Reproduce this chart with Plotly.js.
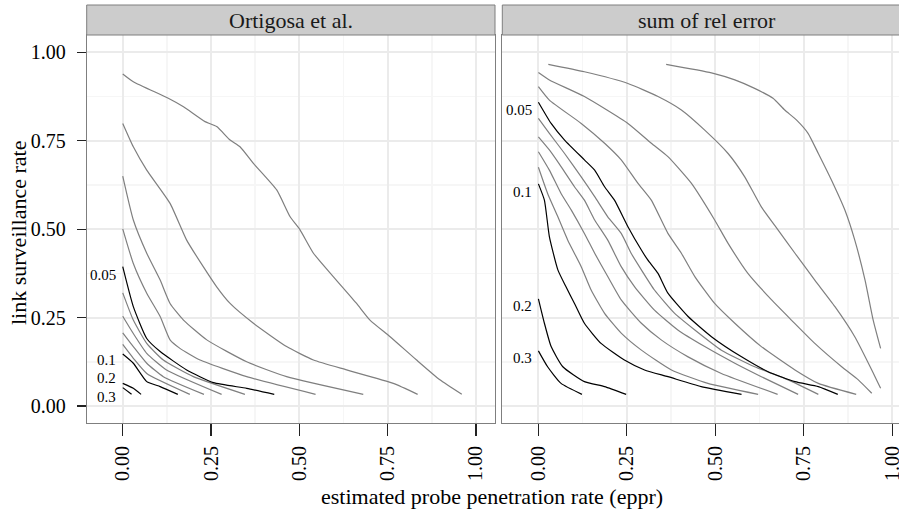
<!DOCTYPE html>
<html>
<head>
<meta charset="utf-8">
<script src="https://cdn.plot.ly/plotly-3.0.1.min.js"></script>
<style>
html, body { margin: 0; padding: 0; overflow: hidden; background: #ffffff; }
#chart { width: 912px; height: 512px; }
</style>
</head>
<body>
<div id="chart"></div>
<script>
// ---------- data: Ortigosa et al. (left panel) ----------
const panelTitles = ["Ortigosa et al.", "sum of rel error"];
const xTickVals = [0, 0.25, 0.5, 0.75, 1.0];
const xTickText = ["0.00", "0.25", "0.50", "0.75", "1.00"];
const yTickVals = [0, 0.25, 0.5, 0.75, 1.0];
const yTickText = ["0.00", "0.25", "0.50", "0.75", "1.00"];
const minorVals = [0.125, 0.375, 0.625, 0.875];
const labelLevels = ["0.05", "0.1", "0.2", "0.3"];

const ortA_x = [0, 0.03, 0.129, 0.172, 0.233, 0.266, 0.304, 0.332, 0.370, 0.436, 0.474, 0.502, 0.540, 0.596, 0.662, 0.700, 0.757, 0.832, 0.898, 0.960];
const ortA_y = [0.939, 0.917, 0.870, 0.846, 0.804, 0.790, 0.752, 0.733, 0.686, 0.611, 0.535, 0.498, 0.432, 0.366, 0.290, 0.243, 0.196, 0.130, 0.074, 0.033];
const ortB_x = [0, 0.030, 0.068, 0.134, 0.181, 0.228, 0.266, 0.304, 0.370, 0.464, 0.540, 0.634, 0.766, 0.835];
const ortB_y = [0.799, 0.733, 0.667, 0.573, 0.469, 0.394, 0.337, 0.290, 0.234, 0.168, 0.130, 0.102, 0.064, 0.033];
const ortC_x = [0, 0.030, 0.068, 0.106, 0.134, 0.172, 0.238, 0.351, 0.464, 0.681];
const ortC_y = [0.650, 0.526, 0.432, 0.356, 0.290, 0.243, 0.187, 0.125, 0.083, 0.033];
const ortD_x = [0, 0.030, 0.068, 0.106, 0.134, 0.162, 0.219, 0.351, 0.546];
const ortD_y = [0.501, 0.403, 0.319, 0.253, 0.187, 0.163, 0.130, 0.083, 0.033];
const ort005_x = [0, 0.030, 0.068, 0.106, 0.181, 0.257, 0.351, 0.429];
const ort005_y = [0.394, 0.281, 0.191, 0.154, 0.102, 0.066, 0.050, 0.033];
const ortE_x = [0, 0.030, 0.068, 0.115, 0.200, 0.346];
const ortE_y = [0.320, 0.243, 0.177, 0.130, 0.083, 0.033];
const ortF_x = [0, 0.030, 0.068, 0.124, 0.280];
const ortF_y = [0.254, 0.205, 0.149, 0.102, 0.033];
const ortG_x = [0, 0.030, 0.068, 0.115, 0.230];
const ortG_y = [0.207, 0.168, 0.121, 0.083, 0.033];
const ortH_x = [0, 0.030, 0.068, 0.190];
const ortH_y = [0.174, 0.135, 0.092, 0.033];
const ort01_x = [0, 0.030, 0.068, 0.106, 0.156];
const ort01_y = [0.147, 0.121, 0.069, 0.055, 0.033];
const ort02_x = [0, 0.030, 0.052];
const ort02_y = [0.064, 0.050, 0.033];
const ort03_x = [0, 0.025];
const ort03_y = [0.052, 0.033];
const ortLabelY = [0.37, 0.13, 0.078, 0.026];

// ---------- data: sum of rel error (right panel) ----------
const relA_x = [0.361, 0.489, 0.555, 0.611, 0.663, 0.696, 0.729, 0.762, 0.791, 0.828, 0.866, 0.894, 0.923, 0.946, 0.967];
const relA_y = [0.966, 0.942, 0.922, 0.898, 0.870, 0.837, 0.809, 0.771, 0.714, 0.639, 0.554, 0.469, 0.356, 0.243, 0.163];
const relB_x = [0.028, 0.130, 0.253, 0.338, 0.404, 0.470, 0.536, 0.583, 0.630, 0.677, 0.725, 0.781, 0.838, 0.894, 0.942, 0.967];
const relB_y = [0.966, 0.945, 0.912, 0.875, 0.837, 0.780, 0.714, 0.648, 0.563, 0.498, 0.432, 0.356, 0.281, 0.196, 0.102, 0.050];
const relC_x = [0, 0.031, 0.130, 0.253, 0.319, 0.366, 0.432, 0.498, 0.536, 0.592, 0.659, 0.715, 0.781, 0.857, 0.904, 0.942];
const relC_y = [0.943, 0.922, 0.875, 0.799, 0.743, 0.705, 0.630, 0.526, 0.460, 0.375, 0.300, 0.243, 0.177, 0.111, 0.074, 0.036];
const relD_x = [0, 0.031, 0.121, 0.187, 0.234, 0.281, 0.319, 0.366, 0.404, 0.442, 0.498, 0.555, 0.630, 0.725, 0.791, 0.898];
const relD_y = [0.903, 0.865, 0.799, 0.743, 0.696, 0.630, 0.582, 0.488, 0.432, 0.366, 0.290, 0.234, 0.168, 0.102, 0.064, 0.033];
const rel005_x = [0, 0.036, 0.074, 0.130, 0.159, 0.187, 0.215, 0.253, 0.291, 0.309, 0.338, 0.366, 0.423, 0.489, 0.574, 0.649, 0.725, 0.791, 0.846];
const rel005_y = [0.859, 0.799, 0.752, 0.696, 0.667, 0.620, 0.582, 0.507, 0.441, 0.413, 0.375, 0.319, 0.253, 0.196, 0.139, 0.097, 0.069, 0.055, 0.033];
const relE_x = [0, 0.031, 0.074, 0.121, 0.159, 0.196, 0.234, 0.262, 0.291, 0.328, 0.385, 0.442, 0.517, 0.611, 0.706, 0.791];
const relE_y = [0.813, 0.771, 0.714, 0.648, 0.592, 0.535, 0.488, 0.432, 0.385, 0.328, 0.262, 0.215, 0.158, 0.111, 0.074, 0.033];
const relF_x = [0, 0.031, 0.064, 0.102, 0.130, 0.159, 0.196, 0.234, 0.272, 0.328, 0.394, 0.470, 0.555, 0.630, 0.734];
const relF_y = [0.761, 0.724, 0.677, 0.620, 0.582, 0.526, 0.469, 0.394, 0.337, 0.271, 0.215, 0.168, 0.121, 0.083, 0.033];
const relG_x = [0, 0.031, 0.064, 0.093, 0.130, 0.159, 0.196, 0.234, 0.291, 0.347, 0.423, 0.517, 0.676];
const relG_y = [0.719, 0.667, 0.601, 0.554, 0.488, 0.432, 0.366, 0.300, 0.234, 0.187, 0.139, 0.092, 0.033];
const relH_x = [0, 0.026, 0.055, 0.083, 0.121, 0.149, 0.187, 0.234, 0.291, 0.376, 0.479, 0.621];
const relH_y = [0.675, 0.601, 0.535, 0.469, 0.394, 0.328, 0.262, 0.206, 0.158, 0.102, 0.064, 0.033];
const rel01_x = [0, 0.017, 0.031, 0.055, 0.078, 0.102, 0.130, 0.177, 0.243, 0.300, 0.366, 0.460, 0.574];
const rel01_y = [0.628, 0.582, 0.479, 0.385, 0.337, 0.290, 0.234, 0.177, 0.130, 0.102, 0.083, 0.055, 0.033];
const rel02_x = [0, 0.017, 0.036, 0.069, 0.130, 0.187, 0.248];
const rel02_y = [0.303, 0.234, 0.168, 0.111, 0.069, 0.055, 0.033];
const rel03_x = [0, 0.026, 0.064, 0.123];
const rel03_y = [0.156, 0.111, 0.064, 0.033];
const relLabelY = [0.837, 0.604, 0.283, 0.135];

// ---------- build ----------
const W = 912, H = 512;
const GRAY = "#7f7f7f", BLACK = "#000000";
const FONT = "'Liberation Serif', 'DejaVu Serif', serif";

function line(xs, ys, color, xa, ya) {
  return { type: "scatter", mode: "lines", x: xs, y: ys, xaxis: xa, yaxis: ya,
           line: { color: color, width: 1.2, shape: "spline", smoothing: 0.5 },
           hoverinfo: "skip", showlegend: false };
}

const leftSeries = [
  [ortA_x, ortA_y, GRAY], [ortB_x, ortB_y, GRAY], [ortC_x, ortC_y, GRAY], [ortD_x, ortD_y, GRAY],
  [ortE_x, ortE_y, GRAY], [ortF_x, ortF_y, GRAY], [ortG_x, ortG_y, GRAY], [ortH_x, ortH_y, GRAY],
  [ort005_x, ort005_y, BLACK], [ort01_x, ort01_y, BLACK], [ort02_x, ort02_y, BLACK], [ort03_x, ort03_y, BLACK]
];
const rightSeries = [
  [relA_x, relA_y, GRAY], [relB_x, relB_y, GRAY], [relC_x, relC_y, GRAY], [relD_x, relD_y, GRAY],
  [relE_x, relE_y, GRAY], [relF_x, relF_y, GRAY], [relG_x, relG_y, GRAY], [relH_x, relH_y, GRAY],
  [rel005_x, rel005_y, BLACK], [rel01_x, rel01_y, BLACK], [rel02_x, rel02_y, BLACK], [rel03_x, rel03_y, BLACK]
];

const traces = [];
leftSeries.forEach(s => traces.push(line(s[0], s[1], s[2], "x", "y")));
rightSeries.forEach(s => traces.push(line(s[0], s[1], s[2], "x2", "y2")));

const px = v => v / W;
const py = v => (H - v) / H;
const dom1 = [px(86.7), px(495)];
const dom2 = [px(502.3), px(911.4)];
const domY = [py(423), py(35)];

const xr = [-0.102, 1.054];
const yr = [-0.048, 1.049];

function xAxis(domain, anchor) {
  return {
    domain: domain, range: xr, anchor: anchor, tickmode: "array",
    tickvals: xTickVals, ticktext: xTickText, tickangle: -90,
    ticks: "outside", ticklen: 12, tickwidth: 1.2, tickcolor: "#222", ticklabelstandoff: 2,
    tickfont: { family: FONT, size: 20, color: "#000" },
    showline: true, mirror: true, linecolor: GRAY, linewidth: 1,
    showgrid: true, gridcolor: "#ebebeb", gridwidth: 2, zeroline: false,
    minor: { tickmode: "array", tickvals: minorVals, showgrid: true, gridcolor: "#f6f6f6", gridwidth: 1.5, ticks: "" }
  };
}
function yAxis(anchor, showLabels) {
  return {
    domain: domY, range: yr, anchor: anchor, tickmode: "array",
    tickvals: yTickVals, ticktext: showLabels ? yTickText : ["", "", "", "", ""],
    showticklabels: showLabels,
    ticks: showLabels ? "outside" : "", ticklen: 9, tickwidth: 1.2, tickcolor: "#222", ticklabelstandoff: 7,
    tickfont: { family: FONT, size: 20, color: "#000" },
    showline: true, mirror: true, linecolor: GRAY, linewidth: 1,
    showgrid: true, gridcolor: "#ebebeb", gridwidth: 2, zeroline: false,
    minor: { tickmode: "array", tickvals: minorVals, showgrid: true, gridcolor: "#f6f6f6", gridwidth: 1.5, ticks: "" }
  };
}

const annotations = [];
const shapes = [];
[dom1, dom2].forEach((d, i) => {
  shapes.push({ type: "rect", xref: "paper", yref: "paper", x0: d[0], x1: d[1], y0: py(35), y1: py(5),
                fillcolor: "#cccccc", line: { color: GRAY, width: 1 }, layer: "above" });
  annotations.push({ xref: "paper", yref: "paper", x: (d[0] + d[1]) / 2, y: py(20), text: panelTitles[i],
                     showarrow: false, xanchor: "center", yanchor: "middle",
                     font: { family: FONT, size: 22, color: "#1a1a1a" } });
});
labelLevels.forEach((t, i) => {
  annotations.push({ xref: "x", yref: "y", x: -0.012, y: ortLabelY[i], text: t, showarrow: false,
                     xanchor: "right", yanchor: "middle", font: { family: FONT, size: 15, color: "#000" } });
  annotations.push({ xref: "x2", yref: "y2", x: -0.013, y: relLabelY[i], text: t, showarrow: false,
                     xanchor: "right", yanchor: "middle", font: { family: FONT, size: 15, color: "#000" } });
});
annotations.push({ xref: "paper", yref: "paper", x: px(18), y: py(233), text: "link surveillance rate",
                   textangle: -90, showarrow: false, xanchor: "center", yanchor: "middle",
                   font: { family: FONT, size: 22, color: "#000" } });
annotations.push({ xref: "paper", yref: "paper", x: px(491.5), y: py(496), text: "estimated probe penetration rate (eppr)",
                   showarrow: false, xanchor: "center", yanchor: "middle",
                   font: { family: FONT, size: 22, color: "#000" } });

const layout = {
  width: W, height: H,
  margin: { l: 0, r: 0, t: 0, b: 0, pad: 0 },
  font: { family: FONT },
  paper_bgcolor: "#ffffff", plot_bgcolor: "#ffffff",
  showlegend: false,
  xaxis: xAxis(dom1, "y"),
  yaxis: yAxis("x", true),
  xaxis2: xAxis(dom2, "y2"),
  yaxis2: yAxis("x2", false),
  shapes: shapes,
  annotations: annotations
};

Plotly.newPlot("chart", traces, layout, { displayModeBar: false, staticPlot: true });
</script>
</body>
</html>
